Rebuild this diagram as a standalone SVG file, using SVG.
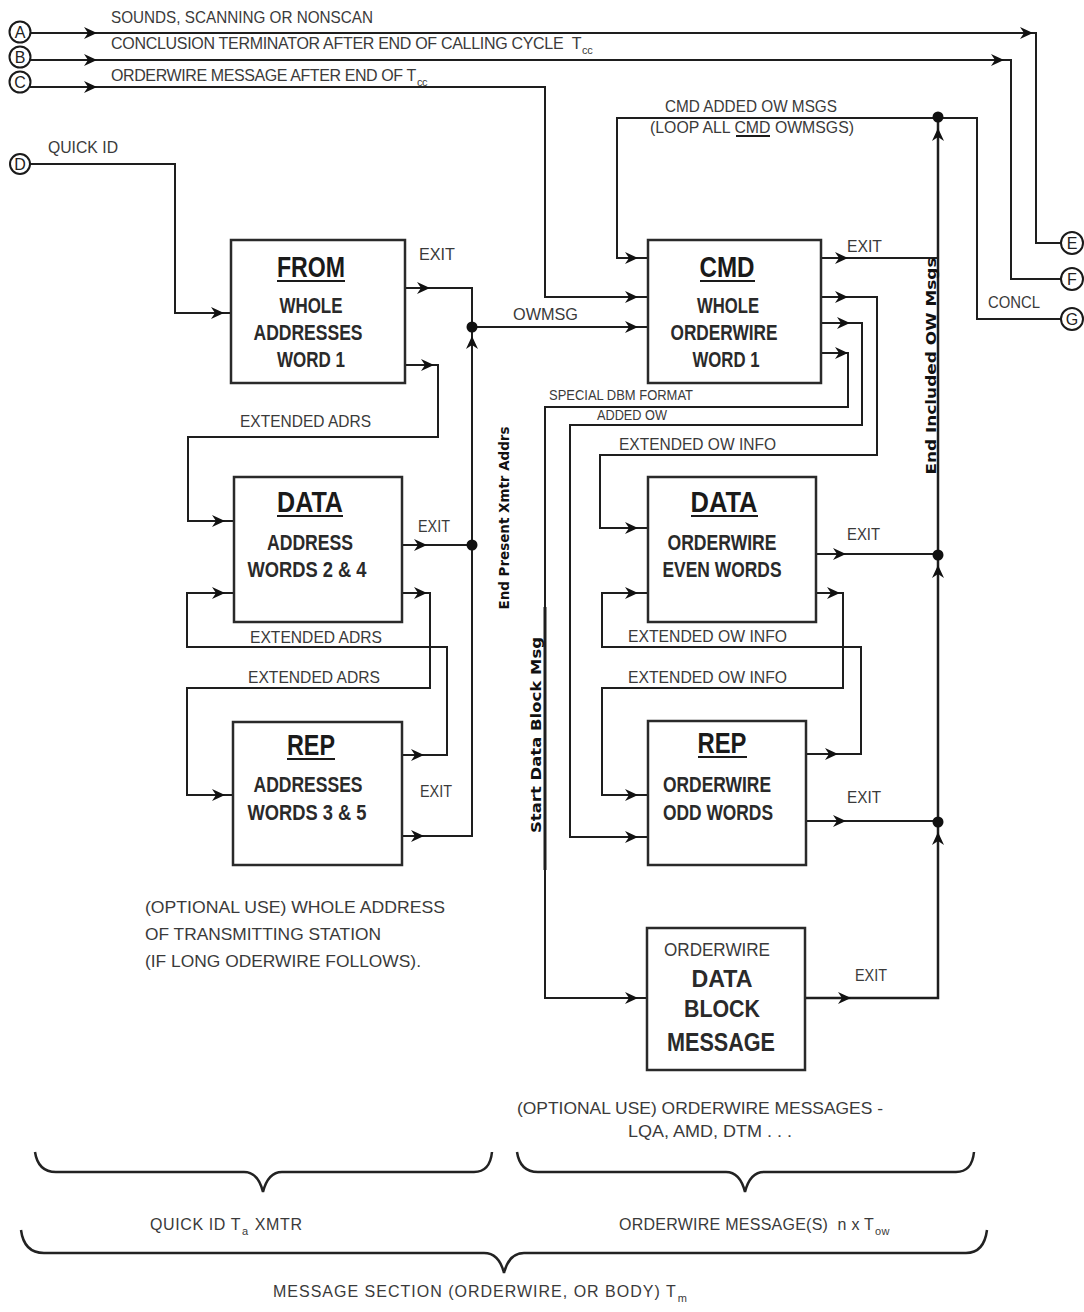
<svg xmlns="http://www.w3.org/2000/svg" xmlns:xlink="http://www.w3.org/1999/xlink" width="1084" height="1312" viewBox="0 0 1084 1312">
<style>
.bx{fill:#fff;stroke:#2a2a2a;stroke-width:2.5}
.cn{fill:none;stroke:#1e1e1e;stroke-width:2}
.ah{fill:#111}
.dot{fill:#111}
.ul{stroke:#1a1a1a;stroke-width:2}
.lb{font-family:"Liberation Sans",Arial,sans-serif;font-size:17px;fill:#3a3a3a}
.lc{font-family:"Liberation Sans",Arial,sans-serif;font-size:16px;fill:#3a3a3a}
.sm{font-family:"Liberation Sans",Arial,sans-serif;font-size:15px;fill:#3a3a3a}
.sub{font-size:11px}
.tt{font-family:"Liberation Sans",Arial,sans-serif;font-size:29px;font-weight:bold;fill:#1a1a1a}
.wd{font-family:"Liberation Sans",Arial,sans-serif;font-size:22px;font-weight:bold;fill:#2a2a2a}
.rt{font-family:"DejaVu Sans",sans-serif;font-size:14px;font-weight:bold;fill:#111}
.ci{fill:#fff;stroke:#1a1a1a;stroke-width:2}
.cl{font-family:"Liberation Sans",Arial,sans-serif;font-size:16px;fill:#222}
.br{fill:none;stroke:#222;stroke-width:2.5}
</style>
<defs>
<path id="ar" class="ah" d="M0,0 L-13,-6 L-9,0 L-13,6 Z"/>
<path id="au" class="ah" d="M0,0 L-6,13 L0,9 L6,13 Z"/>
</defs>

<!-- top texts -->
<g id="top-labels">
<text class="lb" x="111" y="23" textLength="262" lengthAdjust="spacingAndGlyphs">SOUNDS, SCANNING OR NONSCAN</text>
<text class="lc" x="111" y="49" letter-spacing="-0.3">CONCLUSION TERMINATOR AFTER END OF CALLING CYCLE&#160;&#160;T<tspan class="sub" dx="1" dy="5">cc</tspan></text>
<text class="lc" x="111" y="81" letter-spacing="-0.4">ORDERWIRE MESSAGE AFTER END OF T<tspan class="sub" dx="1" dy="5">cc</tspan></text>
<text class="lb" x="48" y="153" textLength="70" lengthAdjust="spacingAndGlyphs">QUICK ID</text>
<text class="lb" x="665" y="112" textLength="172" lengthAdjust="spacingAndGlyphs">CMD ADDED OW MSGS</text>
<text class="lb" x="650" y="133" textLength="204" lengthAdjust="spacingAndGlyphs">(LOOP ALL CMD OWMSGS)</text>
<line class="ul" x1="736" y1="136" x2="770" y2="136"/>
<text class="lb" x="988" y="308" textLength="52" lengthAdjust="spacingAndGlyphs">CONCL</text>
</g>

<!-- connectors -->
<g id="connectors">
<path class="cn" d="M30,33 H1036 V243 H1061"/>
<path class="cn" d="M30,60 H1011 V279 H1061"/>
<path class="cn" d="M30,87 H545 V297 H648"/>
<path class="cn" d="M30,164 H175 V313 H231"/>
<path class="cn" d="M405,288 H472 V836 H402"/>
<path class="cn" d="M472,327 H648"/>
<path class="cn" d="M405,365 H438 V437 H188 V521 H234"/>
<path class="cn" d="M402,545 H472"/>
<path class="cn" d="M402,593 H430 V688 H187 V795 H232"/>
<path class="cn" d="M402,755 H447 V647 H187 V593 H234"/>
<path class="cn" d="M938,118 H977 V319 H1061"/>
<path class="cn" d="M938,118 H617 V258 H648"/>
<path class="cn" d="M820,258 H938"/>
<path class="cn" d="M938,118 V998 H805" style="stroke-width:2.5"/>
<path class="cn" d="M820,297 H877 V455 H600 V528 H648"/>
<path class="cn" d="M820,323 H862 V425 H570 V837 H648"/>
<path class="cn" d="M820,353 H848 V407 H545 V998 H647"/>
<path class="cn" d="M545,607 V870" style="stroke-width:3"/>
<path class="cn" d="M816,554 H938"/>
<path class="cn" d="M816,593 H843 V688 H602 V795 H648"/>
<path class="cn" d="M806,754 H861 V647 H602 V593 H648"/>
<path class="cn" d="M806,821 H938"/>

<use xlink:href="#ar" x="97" y="33"/>
<use xlink:href="#ar" x="97" y="60"/>
<use xlink:href="#ar" x="97" y="87"/>
<use xlink:href="#ar" x="1033" y="33"/>
<use xlink:href="#ar" x="1004" y="60"/>
<use xlink:href="#ar" x="224" y="313"/>
<use xlink:href="#ar" x="430" y="288"/>
<use xlink:href="#ar" x="434" y="365"/>
<use xlink:href="#ar" x="638" y="258"/>
<use xlink:href="#ar" x="638" y="297"/>
<use xlink:href="#ar" x="638" y="327"/>
<use xlink:href="#ar" x="848" y="258"/>
<use xlink:href="#ar" x="848" y="297"/>
<use xlink:href="#ar" x="850" y="323"/>
<use xlink:href="#ar" x="848" y="353"/>
<use xlink:href="#ar" x="225" y="521"/>
<use xlink:href="#ar" x="225" y="593"/>
<use xlink:href="#ar" x="427" y="545"/>
<use xlink:href="#ar" x="427" y="593"/>
<use xlink:href="#ar" x="225" y="795"/>
<use xlink:href="#ar" x="424" y="755"/>
<use xlink:href="#ar" x="424" y="836"/>
<use xlink:href="#ar" x="638" y="528"/>
<use xlink:href="#ar" x="638" y="593"/>
<use xlink:href="#ar" x="846" y="554"/>
<use xlink:href="#ar" x="840" y="593"/>
<use xlink:href="#ar" x="638" y="795"/>
<use xlink:href="#ar" x="638" y="837"/>
<use xlink:href="#ar" x="838" y="754"/>
<use xlink:href="#ar" x="846" y="821"/>
<use xlink:href="#ar" x="638" y="998"/>
<use xlink:href="#ar" x="851" y="998"/>
<use xlink:href="#au" x="472" y="336"/>
<use xlink:href="#au" x="938" y="128"/>
<use xlink:href="#au" x="938" y="565"/>
<use xlink:href="#au" x="938" y="832"/>
<circle class="dot" cx="472" cy="327" r="5.5"/>
<circle class="dot" cx="472" cy="545" r="5.5"/>
<circle class="dot" cx="938" cy="117" r="5.5"/>
<circle class="dot" cx="938" cy="555" r="5.5"/>
<circle class="dot" cx="938" cy="822" r="5.5"/>

<text class="lb" x="419" y="260" textLength="36" lengthAdjust="spacingAndGlyphs">EXIT</text>
<text class="lb" x="847" y="252" textLength="35" lengthAdjust="spacingAndGlyphs">EXIT</text>
<text class="lb" x="418" y="532" textLength="32" lengthAdjust="spacingAndGlyphs">EXIT</text>
<text class="lb" x="420" y="797" textLength="32" lengthAdjust="spacingAndGlyphs">EXIT</text>
<text class="lb" x="847" y="540" textLength="33" lengthAdjust="spacingAndGlyphs">EXIT</text>
<text class="lb" x="847" y="803" textLength="34" lengthAdjust="spacingAndGlyphs">EXIT</text>
<text class="lb" x="855" y="981" textLength="32" lengthAdjust="spacingAndGlyphs">EXIT</text>
<text class="lb" x="513" y="320" textLength="65" lengthAdjust="spacingAndGlyphs">OWMSG</text>
<text class="lb" x="240" y="427" textLength="131" lengthAdjust="spacingAndGlyphs">EXTENDED ADRS</text>
<text class="lb" x="250" y="643" textLength="132" lengthAdjust="spacingAndGlyphs">EXTENDED ADRS</text>
<text class="lb" x="248" y="683" textLength="132" lengthAdjust="spacingAndGlyphs">EXTENDED ADRS</text>
<text class="sm" x="549" y="400" textLength="144" lengthAdjust="spacingAndGlyphs">SPECIAL DBM FORMAT</text>
<text class="sm" x="597" y="420" textLength="70" lengthAdjust="spacingAndGlyphs">ADDED OW</text>
<text class="lb" x="619" y="450" textLength="157" lengthAdjust="spacingAndGlyphs">EXTENDED OW INFO</text>
<text class="lb" x="628" y="642" textLength="159" lengthAdjust="spacingAndGlyphs">EXTENDED OW  INFO</text>
<text class="lb" x="628" y="683" textLength="159" lengthAdjust="spacingAndGlyphs">EXTENDED OW  INFO</text>
<text class="rt" transform="translate(509,518) rotate(-90)" text-anchor="middle" textLength="183" lengthAdjust="spacingAndGlyphs">End Present Xmtr Addrs</text>
<text class="rt" transform="translate(541,735) rotate(-90)" text-anchor="middle" textLength="196" lengthAdjust="spacingAndGlyphs">Start Data Block Msg</text>
<text class="rt" transform="translate(936,366) rotate(-90)" text-anchor="middle" textLength="217" lengthAdjust="spacingAndGlyphs">End Included OW Msgs</text>
</g>

<!-- terminal circles -->
<g id="node-A"><circle class="ci" cx="20" cy="32" r="10.5"/><text class="cl" x="20" y="38" text-anchor="middle">A</text></g>
<g id="node-B"><circle class="ci" cx="20" cy="57" r="10.5"/><text class="cl" x="20" y="63" text-anchor="middle">B</text></g>
<g id="node-C"><circle class="ci" cx="20" cy="82" r="10.5"/><text class="cl" x="20" y="88" text-anchor="middle">C</text></g>
<g id="node-D"><circle class="ci" cx="20" cy="164" r="10"/><text class="cl" x="20" y="170" text-anchor="middle">D</text></g>
<g id="node-E"><circle class="ci" cx="1072" cy="243" r="11"/><text class="cl" x="1072" y="249" text-anchor="middle">E</text></g>
<g id="node-F"><circle class="ci" cx="1072" cy="279" r="11"/><text class="cl" x="1072" y="285" text-anchor="middle">F</text></g>
<g id="node-G"><circle class="ci" cx="1072" cy="319" r="11"/><text class="cl" x="1072" y="325" text-anchor="middle">G</text></g>

<!-- boxes -->
<g id="node-from">
<rect class="bx" x="231" y="240" width="174" height="143"/>
<text class="tt" x="311" y="277" text-anchor="middle" textLength="68" lengthAdjust="spacingAndGlyphs">FROM</text>
<line class="ul" x1="277" y1="281" x2="345" y2="281"/>
<text class="wd" x="311" y="313" text-anchor="middle" textLength="63" lengthAdjust="spacingAndGlyphs">WHOLE</text>
<text class="wd" x="308" y="340" text-anchor="middle" textLength="109" lengthAdjust="spacingAndGlyphs">ADDRESSES</text>
<text class="wd" x="311" y="367" text-anchor="middle" textLength="68" lengthAdjust="spacingAndGlyphs">WORD 1</text>
</g>
<g id="node-data-adr">
<rect class="bx" x="234" y="477" width="168" height="145"/>
<text class="tt" x="310" y="512" text-anchor="middle" textLength="66" lengthAdjust="spacingAndGlyphs">DATA</text>
<line class="ul" x1="277" y1="516" x2="343" y2="516"/>
<text class="wd" x="310" y="550" text-anchor="middle" textLength="86" lengthAdjust="spacingAndGlyphs">ADDRESS</text>
<text class="wd" x="307" y="577" text-anchor="middle" textLength="119" lengthAdjust="spacingAndGlyphs">WORDS 2 &amp; 4</text>
</g>
<g id="node-rep-adr">
<rect class="bx" x="233" y="722" width="169" height="143"/>
<text class="tt" x="311" y="755" text-anchor="middle" textLength="48" lengthAdjust="spacingAndGlyphs">REP</text>
<line class="ul" x1="287" y1="759" x2="335" y2="759"/>
<text class="wd" x="308" y="792" text-anchor="middle" textLength="109" lengthAdjust="spacingAndGlyphs">ADDRESSES</text>
<text class="wd" x="307" y="820" text-anchor="middle" textLength="119" lengthAdjust="spacingAndGlyphs">WORDS 3 &amp; 5</text>
</g>
<g id="node-cmd">
<rect class="bx" x="648" y="240" width="173" height="143"/>
<text class="tt" x="727" y="277" text-anchor="middle" textLength="55" lengthAdjust="spacingAndGlyphs">CMD</text>
<line class="ul" x1="700" y1="281" x2="755" y2="281"/>
<text class="wd" x="728" y="313" text-anchor="middle" textLength="62" lengthAdjust="spacingAndGlyphs">WHOLE</text>
<text class="wd" x="724" y="340" text-anchor="middle" textLength="107" lengthAdjust="spacingAndGlyphs">ORDERWIRE</text>
<text class="wd" x="726" y="367" text-anchor="middle" textLength="67" lengthAdjust="spacingAndGlyphs">WORD 1</text>
</g>
<g id="node-data-ow">
<rect class="bx" x="648" y="477" width="168" height="145"/>
<text class="tt" x="724" y="512" text-anchor="middle" textLength="67" lengthAdjust="spacingAndGlyphs">DATA</text>
<line class="ul" x1="691" y1="516" x2="758" y2="516"/>
<text class="wd" x="722" y="550" text-anchor="middle" textLength="109" lengthAdjust="spacingAndGlyphs">ORDERWIRE</text>
<text class="wd" x="722" y="577" text-anchor="middle" textLength="119" lengthAdjust="spacingAndGlyphs">EVEN WORDS</text>
</g>
<g id="node-rep-ow">
<rect class="bx" x="648" y="721" width="158" height="144"/>
<text class="tt" x="722" y="753" text-anchor="middle" textLength="49" lengthAdjust="spacingAndGlyphs">REP</text>
<line class="ul" x1="698" y1="757" x2="747" y2="757"/>
<text class="wd" x="717" y="792" text-anchor="middle" textLength="108" lengthAdjust="spacingAndGlyphs">ORDERWIRE</text>
<text class="wd" x="718" y="820" text-anchor="middle" textLength="110" lengthAdjust="spacingAndGlyphs">ODD WORDS</text>
</g>
<g id="node-dbm">
<rect class="bx" x="647" y="928" width="158" height="142"/>
<text class="lb" x="717" y="956" text-anchor="middle" textLength="106" lengthAdjust="spacingAndGlyphs" style="font-size:19px">ORDERWIRE</text>
<text class="wd" x="722" y="987" text-anchor="middle" textLength="61" lengthAdjust="spacingAndGlyphs" style="font-size:23px">DATA</text>
<text class="wd" x="722" y="1017" text-anchor="middle" textLength="76" lengthAdjust="spacingAndGlyphs" style="font-size:23px">BLOCK</text>
<text class="wd" x="721" y="1051" text-anchor="middle" textLength="108" lengthAdjust="spacingAndGlyphs" style="font-size:26px">MESSAGE</text>
</g>

<!-- notes -->
<g id="notes">
<text class="lb" x="145" y="913" textLength="300" lengthAdjust="spacingAndGlyphs">(OPTIONAL USE) WHOLE ADDRESS</text>
<text class="lb" x="145" y="940" textLength="236" lengthAdjust="spacingAndGlyphs">OF TRANSMITTING STATION</text>
<text class="lb" x="145" y="967" textLength="276" lengthAdjust="spacingAndGlyphs">(IF LONG ODERWIRE FOLLOWS).</text>
<text class="lb" x="517" y="1114" textLength="366" lengthAdjust="spacingAndGlyphs">(OPTIONAL USE) ORDERWIRE MESSAGES -</text>
<text class="lb" x="628" y="1137" textLength="164" lengthAdjust="spacingAndGlyphs">LQA, AMD, DTM . . .</text>
</g>

<!-- braces -->
<g id="braces">
<path class="br" d="M35,1152 Q38,1172 56,1172 L244,1172 Q258,1172 263,1192 Q268,1172 282,1172 L474,1172 Q490,1172 492,1152"/>
<path class="br" d="M517,1152 Q520,1172 538,1172 L726,1172 Q740,1172 745,1192 Q750,1172 764,1172 L956,1172 Q972,1172 974,1152"/>
<path class="br" d="M21,1230 Q24,1253 44,1253 L484,1253 Q499,1253 504,1273 Q509,1253 524,1253 L966,1253 Q984,1253 987,1230"/>
<text class="lc" x="150" y="1230" letter-spacing="0.6">QUICK ID T<tspan class="sub" dx="1" dy="5">a</tspan><tspan dx="1" dy="-5"> XMTR</tspan></text>
<text class="lc" x="619" y="1230" letter-spacing="0.25">ORDERWIRE MESSAGE(S)&#160;&#160;n x T<tspan class="sub" dx="1" dy="5">ow</tspan></text>
<text class="lc" x="273" y="1297" letter-spacing="1">MESSAGE SECTION (ORDERWIRE, OR BODY) T<tspan class="sub" dx="1" dy="5">m</tspan></text>
</g>
</svg>
